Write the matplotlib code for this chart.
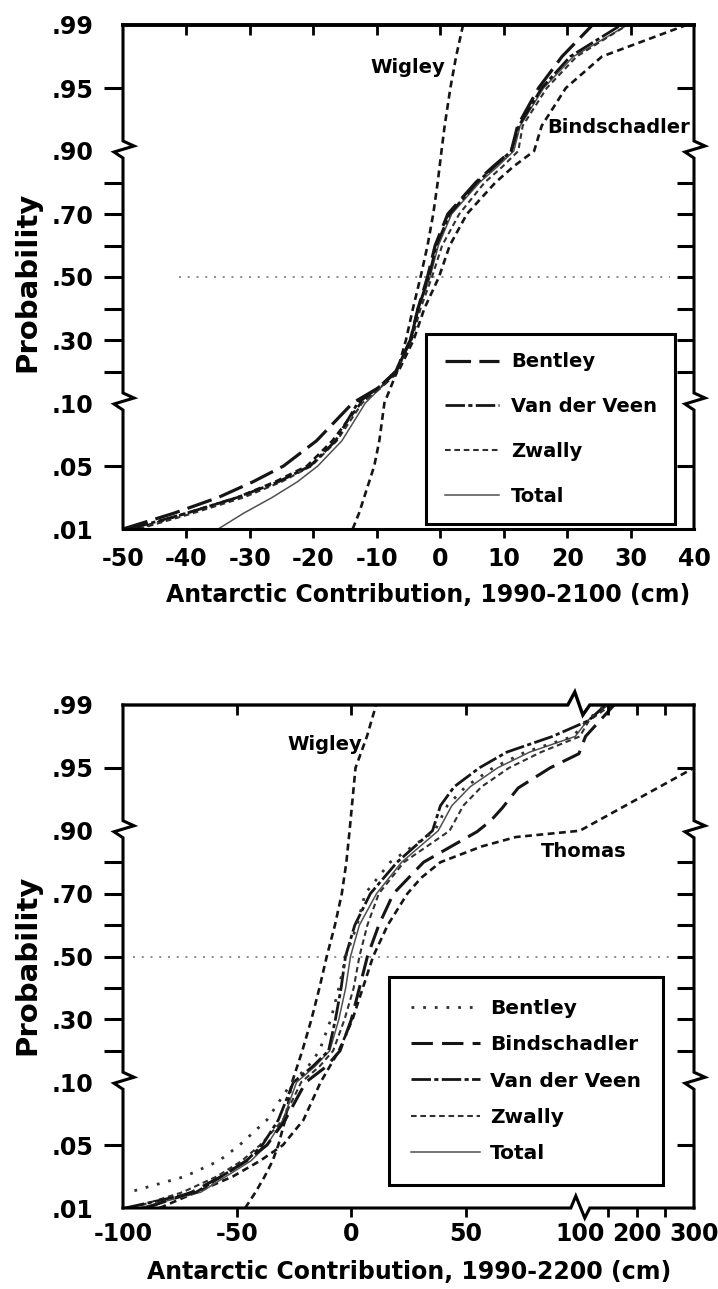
import numpy as np
import matplotlib
matplotlib.use("Agg")
import matplotlib.pyplot as plt
from matplotlib.lines import Line2D

plt.rcParams['font.family'] = ['DejaVu Sans']
plt.rcParams['font.weight'] = 'bold'

# probability axis: .01-.05-.10 | .10 ... .90 linear | .90-.95-.99
P_KNOTS = [0.01, 0.05, 0.10, 0.90, 0.95, 0.99]
U_KNOTS = [0.0, 1.0, 2.0, 6.0, 7.0, 8.0]
P_LABELS = [0.01, 0.05, 0.10, 0.30, 0.50, 0.70, 0.90, 0.95, 0.99]
P_TICKS = [0.05, 0.20, 0.30, 0.40, 0.50, 0.60, 0.70, 0.80, 0.95]

# lower panel x axis is compressed above 100 cm
X_KNOTS = [-100.0, 100.0, 300.0]
V_KNOTS = [-100.0, 100.0, 150.0]

# ---- upper panel: 1990-2100 ----
P_TOP = [0.01, 0.02, 0.03, 0.04, 0.05, 0.07, 0.10, 0.15, 0.20, 0.30, 0.40,
         0.50, 0.60, 0.70, 0.80, 0.85, 0.90, 0.92, 0.95, 0.97, 0.99]
top_wigley = [-13.8, -12.8, -12.0, -11.2, -10.4, -9.6, -8.8, -7.8, -6.8, -5.4, -4.3,
              -3.1, -2.0, -1.1, -0.4, -0.1, 0.2, 0.7, 1.6, 2.5, 3.6]
top_bentley = [-50.0, -42.0, -35.0, -29.5, -24.7, -19.5, -13.8, -9.6, -7.0, -4.7, -3.5,
               -2.0, -0.8, 1.2, 5.6, 8.3, 11.2, 12.2, 15.5, 19.2, 24.0]
top_vanderveen = [-49.0, -40.0, -32.0, -25.5, -20.5, -16.5, -13.0, -9.7, -7.0, -4.7, -3.5,
                  -1.8, -0.6, 1.5, 5.8, 8.5, 11.2, 12.4, 16.0, 20.5, 28.5]
top_zwally = [-47.5, -39.0, -31.0, -25.0, -20.3, -16.3, -12.3, -9.4, -6.9, -4.5, -3.1,
              -1.3, 0.3, 3.0, 7.0, 9.8, 12.3, 13.0, 16.8, 21.5, 29.5]
top_total = [-35.0, -31.0, -26.5, -22.5, -19.3, -15.5, -11.8, -9.3, -6.8, -4.6, -3.4,
             -1.6, -0.3, 1.8, 6.2, 9.0, 11.6, 12.6, 16.3, 21.0, 29.5]
top_bindschadler = [-48.0, -40.0, -32.0, -26.0, -21.0, -17.0, -12.5, -9.3, -6.6, -4.2, -2.5,
                    -0.2, 1.5, 4.2, 8.7, 11.5, 14.8, 16.0, 19.8, 25.5, 38.8]

# ---- lower panel: 1990-2200 ----
P_BOT = [0.01, 0.02, 0.03, 0.04, 0.05, 0.07, 0.10, 0.15, 0.20, 0.30, 0.40, 0.50,
         0.60, 0.70, 0.80, 0.90, 0.92, 0.935, 0.95, 0.96, 0.97, 0.98, 0.99]
bot_vanderveen = [-99.0, -68.0, -57.0, -46.0, -39.0, -32.0, -25.4, -17.0, -10.0, -7.0, -4.5, -2.6,
                  1.5, 8.3, 20.0, 35.5, 39.0, 45.0, 56.0, 68.0, 88.0, 115.0, 145.0]
bot_total = [-93.0, -66.0, -55.0, -44.0, -37.0, -30.0, -24.0, -16.0, -9.5, -5.5, -2.5, -0.4,
             3.5, 11.0, 22.0, 38.0, 44.0, 52.0, 64.0, 78.0, 98.0, 113.0, 150.0]
bot_zwally = [-96.0, -74.0, -59.0, -48.0, -40.0, -30.0, -22.0, -14.0, -8.0, -3.0, 1.0, 3.5,
              7.0, 12.0, 23.0, 43.0, 49.0, 57.0, 69.0, 83.0, 100.0, 116.0, 155.0]
P_BOT_BENTLEY = [0.021, 0.03, 0.04, 0.05, 0.07, 0.10, 0.15, 0.20, 0.30, 0.40, 0.50, 0.60,
                 0.70, 0.80, 0.90, 0.92, 0.935, 0.95, 0.96, 0.97, 0.98, 0.99]
bot_bentley = [-95.0, -73.0, -58.0, -49.0, -37.0, -26.0, -19.0, -14.0, -9.0, -5.5, -2.5, 2.5,
               6.0, 17.0, 36.5, 42.0, 50.0, 62.0, 76.0, 97.0, 112.0, 145.0]
P_BOT_BINDSCHADLER = [0.01, 0.02, 0.03, 0.04, 0.05, 0.07, 0.10, 0.15, 0.20, 0.30, 0.40, 0.50,
                      0.60, 0.70, 0.80, 0.897, 0.908, 0.918, 0.934, 0.95, 0.959, 0.97, 0.99]
bot_bindschadler = [-90.0, -70.0, -57.0, -46.0, -37.0, -29.0, -20.0, -11.0, -5.0, 0.0, 3.5, 7.0,
                    12.0, 18.4, 31.6, 55.0, 61.0, 66.0, 73.0, 87.0, 99.6, 110.0, 160.0]
P_BOT_WIGLEY = [0.01, 0.02, 0.03, 0.04, 0.05, 0.07, 0.10, 0.20, 0.30, 0.40, 0.50, 0.60,
                0.70, 0.80, 0.90, 0.95, 0.97, 0.99]
bot_wigley = [-46.5, -42.0, -38.0, -34.5, -32.0, -29.0, -26.0, -21.5, -17.5, -14.0, -10.8, -7.2,
              -4.2, -2.2, -0.8, 1.8, 6.8, 10.8]
P_BOT_THOMAS = [0.01, 0.02, 0.03, 0.04, 0.05, 0.07, 0.10, 0.15, 0.20, 0.30, 0.40, 0.50,
                0.60, 0.70, 0.75, 0.80, 0.85, 0.88, 0.90, 0.95]
bot_thomas = [-84.0, -68.0, -52.0, -40.0, -30.0, -21.0, -13.5, -9.5, -5.5, 0.5, 5.0, 9.5,
              15.9, 24.5, 30.5, 39.0, 57.0, 72.0, 100.0, 300.0]


def pw(v, xs, ys):
    v = np.asarray(v, dtype=float)
    shape = v.shape
    f = v.ravel()
    out = np.interp(f, xs, ys)
    lo = (ys[1] - ys[0]) / (xs[1] - xs[0])
    hi = (ys[-1] - ys[-2]) / (xs[-1] - xs[-2])
    out = np.where(f < xs[0], ys[0] + (f - xs[0]) * lo, out)
    out = np.where(f > xs[-1], ys[-1] + (f - xs[-1]) * hi, out)
    return out.reshape(shape)


p_fwd = lambda p: pw(p, P_KNOTS, U_KNOTS)
p_inv = lambda u: pw(u, U_KNOTS, P_KNOTS)
x_fwd = lambda x: pw(x, X_KNOTS, V_KNOTS)
x_inv = lambda v: pw(v, V_KNOTS, X_KNOTS)

# styles
DASH_W = (0, (2.6, 1.7))
ST = {
    'bentley_top': dict(color='#151515', lw=2.3, ls=(0, (8, 2.6))),
    'vdv': dict(color='#151515', lw=2.0, ls=(0, (7, 1.2, 1.5, 1.2))),
    'zwally': dict(color='#303030', lw=1.5, ls=(0, (2.7, 1.8))),
    'total': dict(color='#505050', lw=1.1, ls='-'),
    'wig': dict(color='#151515', lw=1.9, ls=DASH_W),
    'bentley_bot': dict(color='#303030', lw=2.0, ls=(0, (1, 3.2))),
    'bind_bot': dict(color='#151515', lw=2.2, ls=(0, (7, 3))),
}

W, H = 718, 1289
fig = plt.figure(figsize=(W / 100, H / 100), dpi=100)


def rect(l, t, r, b):
    return [l / W, 1 - b / H, (r - l) / W, (b - t) / H]


def frame(ax, aw, ah, xbreak=None, top_lw=2.2):
    kw = dict(transform=ax.transAxes, color='k', clip_on=False,
              solid_joinstyle='miter', zorder=5)
    yb = [float(p_fwd(p) / 8.0) for p in (0.10, 0.90)]
    zz = [(0, -7), (-9, -1), (11, 5), (0, 10)]
    for x0 in (0.0, 1.0):
        xs, ys = [x0], [0.0]
        for b in yb:
            for dx, dy in zz:
                xs.append(x0 + dx / aw)
                ys.append(b + dy / ah)
        xs.append(x0)
        ys.append(1.0)
        ax.plot(xs, ys, lw=2.2, **kw)
    for y0, zx, lw in ((0.0, [(-9, 0), (-4, 12), (5, -10), (10, 0)], 2.2),
                       (1.0, [(-12, 0), (-5, 13), (3, -10), (10, 0)], top_lw)):
        xs, ys = [0.0], [y0]
        if xbreak is not None:
            for dx, dy in zx:
                xs.append(xbreak + dx / aw)
                ys.append(y0 + dy / ah)
        xs.append(1.0)
        ys.append(y0)
        ax.plot(xs, ys, lw=lw, **kw)


def setup(ax, xlim, xlabels, xticks, xscale, xlabel, xlab_pos, ylab_y, xpad):
    ax.set_yscale('function', functions=(p_fwd, p_inv))
    if xscale:
        ax.set_xscale('function', functions=(x_fwd, x_inv))
    ax.set_xlim(*xlim)
    ax.set_ylim(0.01, 0.99)
    for s in ax.spines.values():
        s.set_visible(False)
    ax.yaxis.remove_overlapping_locs = False
    ax.xaxis.remove_overlapping_locs = False
    ax.set_yticks(P_LABELS)
    ax.set_yticklabels([('%.2f' % p)[1:] for p in P_LABELS])
    ax.set_yticks(P_TICKS, minor=True)
    ax.set_xticks(xlabels)
    ax.set_xticklabels([str(v) for v in xlabels])
    ax.set_xticks(xticks, minor=True)
    ax.tick_params(axis='both', which='major', length=0, labelsize=17)
    ax.tick_params(axis='y', which='major', pad=21)
    ax.tick_params(axis='x', which='major', pad=xpad)
    ax.tick_params(axis='y', which='minor', direction='out', length=13.5, width=2.2)
    ax.tick_params(axis='x', which='minor', direction='out', length=6.5, width=2.0)
    ax.set_xlabel(xlabel, fontsize=17, fontweight='bold')
    ax.xaxis.set_label_coords(xlab_pos[0], xlab_pos[1])
    ax.set_ylabel('Probability', fontsize=21, fontweight='bold')
    ax.yaxis.set_label_coords(-0.143, ylab_y)

    axr = ax.twinx()
    axr.set_yscale('function', functions=(p_fwd, p_inv))
    axr.set_ylim(0.01, 0.99)
    axr.set_yticks(P_TICKS)
    axr.set_yticklabels([])
    axr.tick_params(axis='y', direction='in', length=12.5, width=2.2)
    axt = ax.twiny()
    if xscale:
        axt.set_xscale('function', functions=(x_fwd, x_inv))
    axt.set_xlim(*xlim)
    axt.set_xticks(xticks)
    axt.set_xticklabels([])
    axt.tick_params(axis='x', direction='in', length=7, width=2.0)
    for a in (axr, axt):
        for s in a.spines.values():
            s.set_visible(False)


# ---------- upper panel ----------
ax1 = fig.add_axes(rect(123, 25, 694, 529))
setup(ax1, (-50, 40), list(range(-50, 41, 10)), list(range(-40, 31, 10)), False,
      'Antarctic Contribution, 1990-2100 (cm)', (0.535, -0.107), 0.49, 13)
frame(ax1, 571, 504, top_lw=2.8)
ax1.axhline(0.5, xmin=0.098, xmax=0.958, color='#8a8a8a', lw=1.4, ls=(0, (1, 3.5)))
ax1.plot(top_wigley, P_TOP, **ST['wig'])
ax1.plot(top_bindschadler, P_TOP, **ST['wig'])
ax1.plot(top_total, P_TOP, **ST['total'])
ax1.plot(top_zwally, P_TOP, **ST['zwally'])
ax1.plot(top_vanderveen, P_TOP, **ST['vdv'])
ax1.plot(top_bentley, P_TOP, **ST['bentley_top'])
ax1.text(0.499, 0.916, 'Wigley', transform=ax1.transAxes, ha='center', va='center',
         fontsize=14, fontweight='bold')
ax1.text(0.993, 0.796, 'Bindschadler', transform=ax1.transAxes, ha='right', va='center',
         fontsize=14, fontweight='bold')
h1 = [Line2D([], [], **ST['bentley_top']), Line2D([], [], **ST['vdv']),
      Line2D([], [], **ST['zwally']), Line2D([], [], **ST['total'])]
leg1 = ax1.legend(h1, ['Bentley', 'Van der Veen', 'Zwally', 'Total'], loc='upper left',
                  bbox_to_anchor=(0.531, 0.387), borderaxespad=0, fontsize=14,
                  handlelength=2.8, handletextpad=0.6, labelspacing=1.33,
                  borderpad=0.95, fancybox=False, framealpha=1, edgecolor='k')
leg1.get_frame().set_linewidth(2.2)
leg1.set_zorder(6)

# ---------- lower panel ----------
ax2 = fig.add_axes(rect(123, 705, 694, 1208))
setup(ax2, (-100, 300), [-100, -50, 0, 50, 100, 200, 300], [-50, 0, 50, 150, 200, 250], True,
      'Antarctic Contribution, 1990-2200 (cm)', (0.501, -0.103), 0.483, 10)
frame(ax2, 571, 503, xbreak=0.8, top_lw=2.4)
ax2.axhline(0.5, xmin=0.017, xmax=0.956, color='#8a8a8a', lw=1.4, ls=(0, (1, 3.5)))
ax2.plot(bot_wigley, P_BOT_WIGLEY, **ST['wig'])
ax2.plot(bot_thomas, P_BOT_THOMAS, **ST['wig'])
ax2.plot(bot_total, P_BOT, **ST['total'])
ax2.plot(bot_zwally, P_BOT, **ST['zwally'])
ax2.plot(bot_bindschadler, P_BOT_BINDSCHADLER, **ST['bind_bot'])
ax2.plot(bot_vanderveen, P_BOT, **ST['vdv'])
ax2.plot(bot_bentley, P_BOT_BENTLEY, **ST['bentley_bot'])
ax2.text(0.354, 0.922, 'Wigley', transform=ax2.transAxes, ha='center', va='center',
         fontsize=14, fontweight='bold')
ax2.text(0.806, 0.709, 'Thomas', transform=ax2.transAxes, ha='center', va='center',
         fontsize=14, fontweight='bold')
h2 = [Line2D([], [], **ST['bentley_bot']), Line2D([], [], **ST['bind_bot']),
      Line2D([], [], **ST['vdv']), Line2D([], [], **ST['zwally']), Line2D([], [], **ST['total'])]
leg2 = ax2.legend(h2, ['Bentley', 'Bindschadler', 'Van der Veen', 'Zwally', 'Total'],
                  loc='upper left', bbox_to_anchor=(0.466, 0.459), borderaxespad=0,
                  fontsize=14.5, handlelength=3.4, handletextpad=0.5, labelspacing=0.85,
                  borderpad=1.1, fancybox=False, framealpha=1, edgecolor='k')
leg2.get_frame().set_linewidth(2.2)
leg2.set_zorder(6)

fig.savefig('out.png', dpi=100)
